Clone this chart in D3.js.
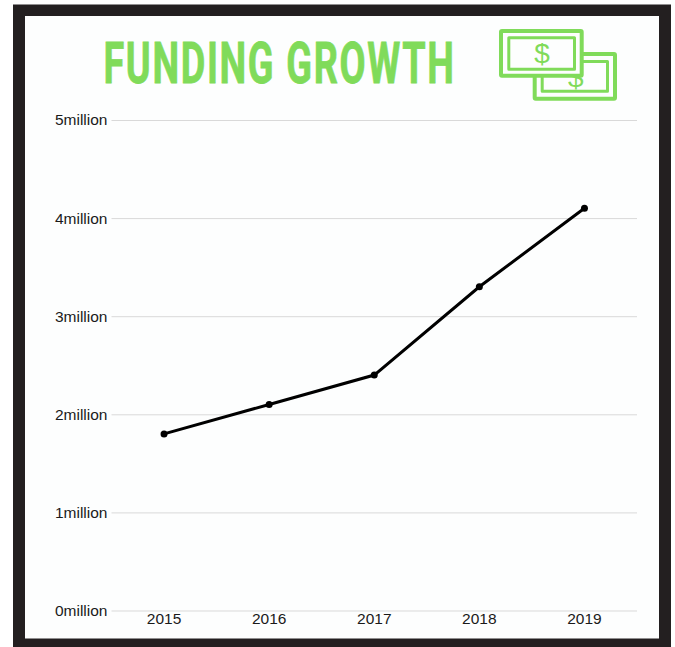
<!DOCTYPE html>
<html>
<head>
<meta charset="utf-8">
<script src="https://cdn.jsdelivr.net/npm/d3@7"></script>
<style>
  html, body { margin: 0; padding: 0; background: #fff; overflow: hidden; }
  svg { display: block; }
  .axis text { font-family: "Liberation Sans", sans-serif; font-size: 15.5px; fill: #1a1a1a; }
</style>
</head>
<body>
<div id="chart"></div>
<script>
const width = 675;
const height = 647;
const margin = {top: 120, right: 38, bottom: 36.5, left: 111.5};

const years = ["2015", "2016", "2017", "2018", "2019"];
const funding = [1.8, 2.1, 2.4, 3.3, 4.1];
const yTicks = [0, 1, 2, 3, 4, 5];

const GREEN = "#80db5a";
const FRAME = "#231f20";
const PAPER = "#fdfefe";

const svg = d3.select("#chart")
    .append("svg")
    .attr("width", width)
    .attr("height", height);

// frame
svg.append("rect").attr("x", 13).attr("y", 4.5).attr("width", 658).attr("height", 642.5).attr("fill", FRAME);
svg.append("rect").attr("x", 25).attr("y", 16).attr("width", 634).attr("height", 622.5).attr("fill", PAPER);

const x = d3.scaleBand().domain(years).range([margin.left, width - margin.right]);
const y = d3.scaleLinear().domain([0, 5]).range([height - margin.bottom, margin.top]);

// grid + y labels
const yAxis = d3.axisLeft(y)
    .tickValues(yTicks)
    .tickFormat(d => d + "million")
    .tickSize(-(width - margin.left - margin.right))
    .tickPadding(4);

const gy = svg.append("g")
    .attr("class", "axis")
    .attr("transform", `translate(${margin.left},0)`)
    .call(yAxis);
gy.select(".domain").remove();
gy.selectAll("line").attr("stroke", "#d9d9d9").attr("stroke-width", 1);

const xAxis = d3.axisBottom(x).tickSize(0).tickPadding(2);
const gx = svg.append("g")
    .attr("class", "axis")
    .attr("transform", `translate(0,${height - margin.bottom})`)
    .call(xAxis);
gx.select(".domain").remove();

// line
const line = d3.line()
    .x((d, i) => x(years[i]) + x.bandwidth() / 2)
    .y(d => y(d));

svg.append("path")
    .datum(funding)
    .attr("fill", "none")
    .attr("stroke", "#000")
    .attr("stroke-width", 3)
    .attr("d", line);

svg.selectAll(".point")
    .data(funding)
    .join("circle")
    .attr("class", "point")
    .attr("cx", (d, i) => x(years[i]) + x.bandwidth() / 2)
    .attr("cy", d => y(d))
    .attr("r", 3.5)
    .attr("fill", "#000");

// title
svg.append("text")
    .attr("x", 103.5)
    .attr("y", 82.5)
    .attr("textLength", 352)
    .attr("lengthAdjust", "spacingAndGlyphs")
    .attr("font-family", "Roboto, sans-serif")
    .attr("font-weight", 700)
    .attr("font-size", 57.5)
    .attr("letter-spacing", 2.5)
    .attr("fill", GREEN)
    .attr("stroke", GREEN)
    .attr("stroke-width", 0.8)
    .text("FUNDING GROWTH");

// money icon, back note first
const icon = svg.append("g").attr("fill", "none").attr("stroke", GREEN).attr("stroke-linejoin", "round");
icon.append("rect").attr("x", 534.7).attr("y", 54).attr("width", 80.3).attr("height", 44.7).attr("rx", 1).attr("stroke-width", 4);
icon.append("rect").attr("x", 542.2).attr("y", 61.5).attr("width", 65.3).attr("height", 29.7).attr("stroke-width", 3);
icon.append("text").attr("x", 575.7).attr("y", 86.5).attr("text-anchor", "middle")
    .attr("font-family", "Liberation Sans, sans-serif").attr("font-size", 28)
    .attr("fill", GREEN).attr("stroke", "none").text("$");
icon.append("rect").attr("x", 501).attr("y", 31).attr("width", 80.7).attr("height", 44.7).attr("rx", 1).attr("stroke-width", 4)
    .attr("fill", PAPER);
icon.append("rect").attr("x", 508.8).attr("y", 37.8).attr("width", 65.7).attr("height", 31.4).attr("stroke-width", 3);
icon.append("text").attr("x", 542).attr("y", 63).attr("text-anchor", "middle")
    .attr("font-family", "Liberation Sans, sans-serif").attr("font-size", 28)
    .attr("fill", GREEN).attr("stroke", "none").text("$");
</script>
</body>
</html>
